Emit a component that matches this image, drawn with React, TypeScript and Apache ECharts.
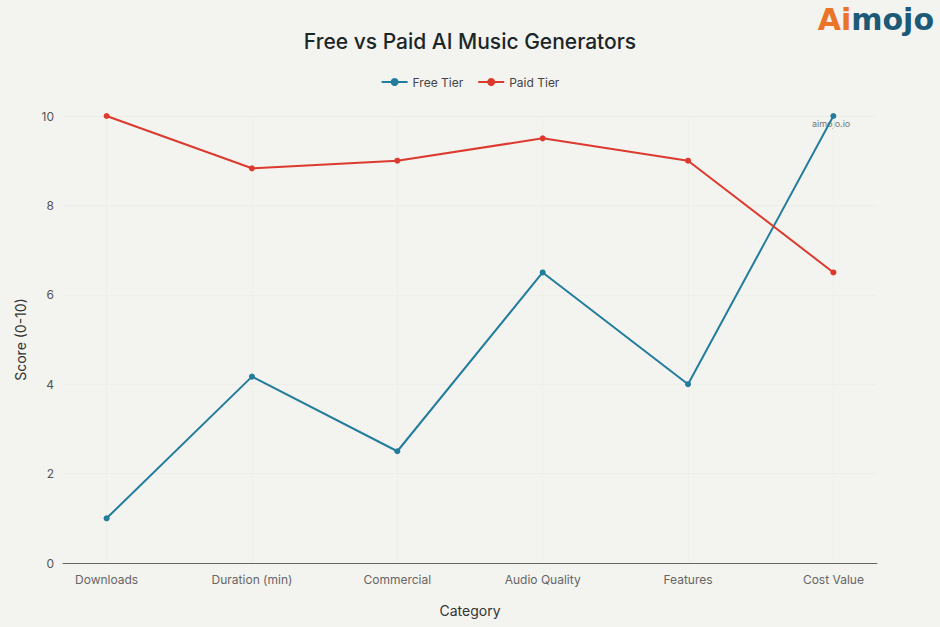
import React, { useEffect, useRef } from "react";
import * as echarts from "echarts";

const categories = ["Downloads", "Duration (min)", "Commercial", "Audio Quality", "Features", "Cost Value"];
const freeTier = [1, 4.17, 2.5, 6.5, 4, 10];
const paidTier = [10, 8.83, 9, 9.5, 9, 6.5];
const yTicks = [0, 2, 4, 6, 8, 10];

const FONT = "Inter, 'Liberation Sans', sans-serif";

export default function App() {
  const ref = useRef<HTMLDivElement>(null);
  useEffect(() => {
    if (!ref.current) return;
    const chart = echarts.init(ref.current, null, { renderer: "svg" });
    const idx = categories.map((_, i) => i);
    chart.setOption({
      animation: false,
      backgroundColor: "#f3f3ef",
      textStyle: { fontFamily: FONT },
      title: {
        text: "Free vs Paid AI Music Generators",
        left: "center",
        top: 26,
        textStyle: { fontSize: 21, fontWeight: 500, color: "#1b2727", fontFamily: FONT },
      },
      legend: {
        top: 71,
        left: "center",
        itemWidth: 26,
        itemHeight: 10,
        itemGap: 14,
        textStyle: { fontSize: 12, color: "#444", fontFamily: FONT },
        data: ["Free Tier", "Paid Tier"],
      },
      grid: { left: 63, right: 63, top: 116, bottom: 64 },
      xAxis: {
        type: "value",
        min: -0.3,
        max: 5.3,
        name: "Category",
        nameLocation: "middle",
        nameGap: 40,
        nameTextStyle: { fontSize: 14, color: "#333", fontFamily: FONT },
        axisLine: { show: true, lineStyle: { color: "#666", width: 1 } },
        axisTick: { show: false, customValues: idx },
        axisLabel: {
          customValues: idx,
          formatter: (v: number) => categories[Math.round(v)] ?? "",
          fontSize: 12,
          color: "#666",
          margin: 10,
        },
        splitLine: { show: true, lineStyle: { color: "#efefea", width: 1 } },
      },
      yAxis: {
        type: "value",
        min: 0,
        max: 10,
        interval: 2,
        name: "Score (0-10)",
        nameLocation: "middle",
        nameGap: 36,
        nameTextStyle: { fontSize: 14, color: "#333", fontFamily: FONT },
        axisLine: { show: false },
        axisTick: { show: false },
        axisLabel: {
          fontSize: 12,
          color: "#555",
          margin: 9,
          formatter: (v: number) => (yTicks.includes(v) ? String(v) : ""),
        },
        splitLine: { show: true, lineStyle: { color: "#eeeee9", width: 1 } },
      },
      graphic: [
        {
          type: "text",
          right: 6,
          top: 4,
          style: {
            text: "{a|Ai}{b|mojo}",
            rich: {
              a: { fontSize: 30, fontWeight: 900, fill: "#ea7428", fontFamily: "'DejaVu Sans', sans-serif" },
              b: { fontSize: 30, fontWeight: 900, fill: "#1c5a78", fontFamily: "'DejaVu Sans', sans-serif" },
            },
          },
        },
        {
          type: "text",
          left: 812,
          top: 119,
          style: { text: "aimojo.io", fontSize: 9, fill: "#777", fontFamily: FONT },
        },
      ],
      series: [
        {
          name: "Free Tier",
          type: "line",
          data: freeTier.map((v, i) => [i, v]),
          symbol: "circle",
          symbolSize: 6,
          lineStyle: { color: "#227c9c", width: 2 },
          itemStyle: { color: "#227c9c" },
        },
        {
          name: "Paid Tier",
          type: "line",
          data: paidTier.map((v, i) => [i, v]),
          symbol: "circle",
          symbolSize: 6,
          lineStyle: { color: "#dc3a2e", width: 2 },
          itemStyle: { color: "#dc3a2e" },
        },
      ],
    });
    return () => chart.dispose();
  }, []);
  return <div ref={ref} style={{ width: 940, height: 627, position: "fixed", left: 0, top: 0 }} />;
}
